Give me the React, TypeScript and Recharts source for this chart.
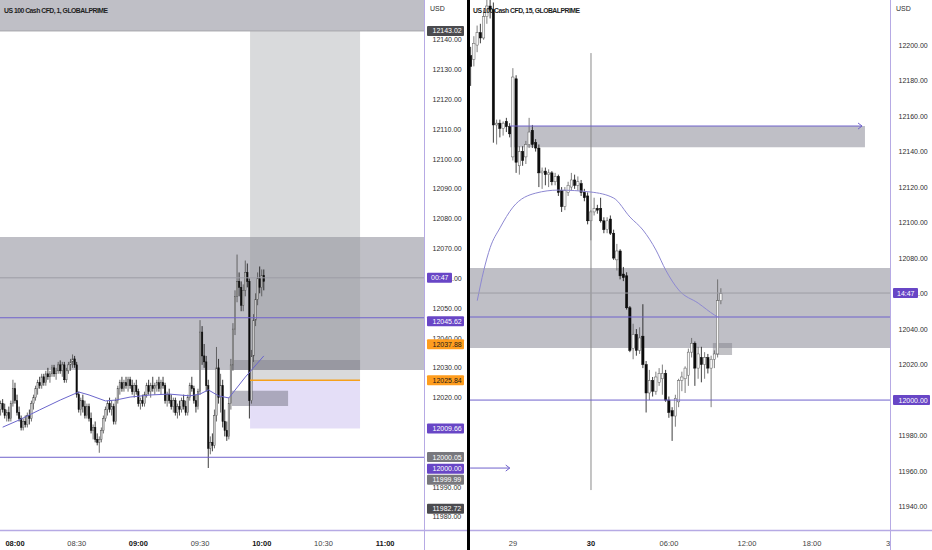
import React from "react";
import {
  ComposedChart,
  Bar,
  Line,
  XAxis,
  YAxis,
  ReferenceArea,
  ReferenceLine,
  ReferenceDot,
} from "recharts";

// ---------- left pane: 1 minute candles, t = minutes after midnight ----------
const leftStart = 473; // 07:53
const leftOhlc: number[][] = [
  [12016, 12019, 12014, 12018], [12018, 12019.5, 12015, 12016], [12016, 12018, 12013, 12014],
  [12014, 12016, 12012, 12015], [12015, 12017, 12012, 12013], [12013, 12019, 12012, 12018],
  [12018, 12026, 12017, 12023], [12023, 12025, 12018, 12019], [12019, 12021, 12014, 12015],
  [12015, 12017, 12012, 12013], [12013, 12014, 12009, 12010], [12010, 12013, 12009, 12012],
  [12012, 12014, 12010, 12011], [12011, 12015, 12010, 12014], [12014, 12016, 12011, 12013],
  [12013, 12019, 12012, 12018], [12018, 12021, 12016, 12020], [12020, 12024, 12019, 12023],
  [12023, 12026, 12021, 12025], [12025, 12027, 12023, 12024], [12024, 12028, 12023, 12027],
  [12027, 12028, 12024, 12025], [12025, 12029, 12024, 12028], [12028, 12030, 12026, 12027],
  [12027, 12029, 12025, 12028], [12028, 12031, 12027, 12030], [12030, 12031, 12027, 12028],
  [12028, 12030, 12026, 12029], [12029, 12032, 12028, 12031], [12031, 12032.5, 12028, 12029],
  [12029, 12032, 12027, 12031], [12031, 12032, 12025, 12026], [12026, 12030, 12025, 12029],
  [12029, 12032, 12028, 12031], [12031, 12033, 12029, 12032], [12032, 12034.5, 12030, 12033],
  [12033, 12034, 12030, 12031], [12031, 12032, 12020, 12021], [12021, 12022, 12015, 12016],
  [12016, 12020, 12014, 12019], [12019, 12021, 12015, 12017], [12017, 12019, 12013, 12014],
  [12014, 12018, 12013, 12017], [12017, 12018, 12012, 12013], [12013, 12015, 12008, 12009],
  [12009, 12011, 12006, 12010], [12010, 12012, 12005, 12006], [12006, 12008, 12004, 12005],
  [12005, 12007, 12001.5, 12006], [12006, 12010, 12005, 12009], [12009, 12014, 12008, 12013],
  [12013, 12017, 12012, 12016], [12016, 12019, 12014, 12018], [12018, 12020, 12015, 12016],
  [12016, 12019, 12014, 12017], [12017, 12018, 12011, 12012], [12012, 12020, 12011, 12019],
  [12019, 12024, 12018, 12023], [12023, 12026, 12021, 12025], [12025, 12027, 12022, 12023],
  [12023, 12026, 12022, 12025], [12025, 12027, 12023, 12024], [12024, 12027, 12022, 12026],
  [12026, 12027, 12023, 12024], [12024, 12026, 12021, 12022], [12022, 12025, 12020, 12024],
  [12024, 12026, 12021, 12022], [12022, 12023, 12017, 12018], [12018, 12020, 12016, 12019],
  [12019, 12021, 12017, 12018], [12018, 12022, 12017, 12021], [12021, 12025, 12020, 12024],
  [12024, 12026, 12021, 12022], [12022, 12025, 12020, 12024], [12024, 12027, 12022, 12023],
  [12023, 12025, 12021, 12024], [12024, 12026, 12022, 12025], [12025, 12027, 12022, 12023],
  [12023, 12026, 12021, 12025], [12025, 12027, 12023, 12024], [12024, 12025, 12018, 12019],
  [12019, 12022, 12017, 12021], [12021, 12023, 12018, 12019], [12019, 12021, 12016, 12017],
  [12017, 12020, 12015, 12019], [12019, 12020, 12014, 12015], [12015, 12018, 12013, 12017],
  [12017, 12019, 12014, 12016], [12016, 12020, 12015, 12019], [12019, 12021, 12016, 12017],
  [12017, 12019, 12014, 12015], [12015, 12021, 12014, 12020], [12020, 12025, 12019, 12024],
  [12024, 12027, 12022, 12023], [12023, 12024, 12018, 12019], [12019, 12021, 12015, 12017],
  [12017, 12023, 12016, 12022], [12022, 12046, 12021, 12042], [12042, 12044, 12031, 12034],
  [12034, 12038, 12030, 12032], [12032, 12034, 12022, 12024], [12024, 12026, 11996.4, 12003],
  [12003, 12007, 12001, 12005], [12005, 12008, 12002, 12004], [12004, 12016, 12003, 12014],
  [12014, 12037, 12012, 12030], [12030, 12033, 12018, 12020], [12020, 12028, 12015, 12024],
  [12024, 12026, 12010, 12012], [12012, 12016, 12007, 12009], [12009, 12012, 12005.5, 12007],
  [12007, 12020, 12006, 12018], [12018, 12033, 12016, 12031], [12031, 12045, 12029, 12043],
  [12043, 12056, 12041, 12054], [12054, 12068, 12052, 12059], [12059, 12062, 12054, 12057],
  [12057, 12059, 12049, 12051], [12051, 12058, 12049, 12056], [12056, 12066, 12054, 12062],
  [12062, 12065, 12057, 12059], [12059, 12060, 12013, 12019], [12019, 12036, 12018, 12034],
  [12034, 12048, 12032, 12046], [12046, 12055, 12044, 12053], [12053, 12062, 12051, 12060],
  [12060, 12064, 12055, 12057], [12057, 12063, 12054, 12061], [12061, 12063, 12056, 12059],
];
// moving average read at a few candles: [candle index, price]
const leftMa: number[][] = [
  [1, 12010.1], [9, 12012.5], [19, 12015.9], [29, 12019.2], [38, 12021.9], [43, 12020.9],
  [51, 12018.9], [56, 12019.2], [63, 12020.2], [73, 12020.9], [82, 12021.2], [92, 12020.6],
  [97, 12021.2], [101, 12022.6], [106, 12020.6], [111, 12019.9], [119, 12026.9], [128, 12034.0],
];
const leftPriceTicks = [
  11980, 11990, 12010, 12020, 12030, 12040, 12050, 12060, 12070, 12080, 12090, 12100, 12110,
  12120, 12130, 12140,
];
const leftTimeTicks = [480, 510, 540, 570, 600, 630, 660];
const leftMarks = [
  { value: 12143.02, text: "12143.02", kind: "dark" },
  { value: 12060.2, text: "00:47", kind: "timer" },
  { value: 12045.62, text: "12045.62", kind: "purple" },
  { value: 12037.88, text: "12037.88", kind: "orange" },
  { value: 12025.84, text: "12025.84", kind: "orange" },
  { value: 12009.66, text: "12009.66", kind: "purple" },
  { value: 12000.05, text: "12000.05", kind: "gray" },
  { value: 12000.0, text: "12000.00", kind: "purple" },
  { value: 11999.99, text: "11999.99", kind: "gray" },
  { value: 11982.72, text: "11982.72", kind: "dark" },
];
// labels pushed down where they would sit on top of each other
const leftNudges: Record<string, number> = { "12000.00": 11.5, "11999.99": 22.5 };

// ---------- right pane: 15 minute candles, n = bar index (0 = 30th 00:00) ----------
const rightStart = -37;
const rightOhlc: number[][] = [
  [12194, 12199, 12177, 12188], [12192, 12205, 12188, 12201], [12200, 12211, 12196, 12207],
  [12207, 12212, 12201, 12204], [12204, 12220, 12203, 12216], [12216, 12228, 12212, 12222],
  [12222, 12230, 12215, 12220], [12220, 12224, 12145, 12155], [12155, 12158, 12144, 12156],
  [12156, 12158, 12148, 12153], [12153, 12157, 12149, 12156], [12157, 12159, 12151, 12154],
  [12154, 12156, 12148, 12150], [12137, 12187, 12135, 12182], [12181, 12183, 12128, 12134],
  [12132, 12143, 12127, 12140], [12140, 12143, 12132, 12135], [12137, 12146, 12133, 12144],
  [12144, 12159, 12142, 12151], [12152, 12155, 12142, 12144], [12145, 12147, 12140, 12142],
  [12142, 12144, 12120, 12128], [12128, 12131, 12119, 12129], [12129, 12131, 12121, 12127],
  [12127, 12130, 12120, 12128], [12128, 12129, 12121, 12123], [12123, 12128, 12121, 12126],
  [12126, 12127, 12115, 12117], [12118, 12120, 12106, 12109], [12109, 12120, 12107, 12118],
  [12117, 12123, 12115, 12121], [12120, 12128, 12118, 12124], [12124, 12127, 12119, 12121],
  [12121, 12126, 12118, 12123], [12122, 12124, 12115, 12117], [12117, 12119, 12112, 12114],
  [12115, 12117, 12099, 12101], [12101, 12107, 12090, 12106], [12106, 12114, 12104, 12108],
  [12108, 12110, 12105, 12107], [12108, 12114, 12100, 12101], [12101, 12103, 12094, 12096],
  [12096, 12103, 12094, 12101], [12102, 12104, 12093, 12094], [12094, 12096, 12079, 12080],
  [12079, 12088, 12073, 12084], [12084, 12085, 12068, 12070], [12071, 12075, 12067, 12069],
  [12070, 12072, 12051, 12052], [12052, 12053, 12027, 12028], [12029, 12043, 12023, 12037],
  [12037, 12040, 12025, 12028], [12028, 12041, 12026, 12035], [12036, 12054, 12018, 12020],
  [12020, 12022, 11993, 12004], [12004, 12017, 12000, 12011], [12011, 12013, 12002, 12005],
  [12005, 12016, 12003, 12013], [12010, 12018, 12008, 12015], [12012, 12020, 12003, 12015],
  [12015, 12017, 11999, 12000], [12000, 12002, 11990, 11993], [11994, 11996, 11977, 11991],
  [11991, 12003, 11985, 12001], [11999, 12012, 11996, 12011], [12011, 12016, 12005, 12013],
  [12012, 12019, 12004, 12018], [12014, 12029, 12008, 12027], [12027, 12035, 12024, 12032],
  [12032, 12033, 12008, 12018], [12018, 12030, 12012, 12026], [12024, 12030, 12010, 12020],
  [12020, 12027, 12012, 12024], [12024, 12026, 12015, 12018], [12018, 12025, 11996, 12023],
  [12023, 12028, 12018, 12026], [12026, 12068, 12024, 12056], [12056, 12063, 12054, 12060],
];
const rightMa: number[][] = [
  [-35, 12056], [-33, 12073], [-31, 12086], [-28, 12097], [-24, 12108.7], [-17, 12116.6],
  [-10, 12118.3], [0, 12117.2], [7, 12113.8], [12, 12103.1], [16, 12095.8], [20, 12084.5],
  [23, 12073.2], [27, 12062], [33, 12054.6], [38, 12047.9], [39, 12046.8],
];
const rightPriceTicks = [
  11940, 11960, 11980, 12020, 12040, 12060, 12080, 12100, 12120, 12140, 12160, 12180, 12200,
];
const rightTimeTicks = [-24, 0, 24, 48, 68, 92];
const rightTimeLabels = ["29", "30", "06:00", "12:00", "18:00", "3"];
const rightMarks = [
  { value: 12060.3, text: "14:47", kind: "timer" },
  { value: 12000.0, text: "12000.00", kind: "purple" },
];

const leftData = leftOhlc.map(([o, h, l, c], i) => ({ t: leftStart + i, o, h, l, c, ma: null as number | null }));
leftMa.forEach(([i, v]) => (leftData[i].ma = v));
const rightData = rightOhlc.map(([o, h, l, c], i) => ({ t: rightStart + i, o, h, l, c, ma: null as number | null }));
rightMa.forEach(([n, v]) => (rightData[n - rightStart].ma = v));

const font = "'Liberation Sans', Arial, sans-serif";
const purple = "#6f62cc";
const zoneGray = "#9898a3";

const markStyle: Record<string, { bg: string; fg: string; w: number }> = {
  dark: { bg: "#4b4b4f", fg: "#ffffff", w: 37 },
  gray: { bg: "#78787d", fg: "#ffffff", w: 37 },
  purple: { bg: "#6846c6", fg: "#ffffff", w: 37 },
  orange: { bg: "#ff9d1e", fg: "#1b1b1b", w: 37 },
  timer: { bg: "#6846c6", fg: "#ffffff", w: 25 },
};

const fmtTime = (m: number) =>
  `${String(Math.floor(m / 60)).padStart(2, "0")}:${String(m % 60).padStart(2, "0")}`;

const PriceTick = (props: any) => {
  const { x, y, payload, marks, nudges } = props;
  const v = payload.value;
  const m = marks.find((mk: any) => mk.value === v);
  if (!m) {
    return (
      <text x={x + 6.5} y={y + 2.5} fontSize={7} fontFamily={font} fill="#2e2e2e">
        {v.toFixed(2)}
      </text>
    );
  }
  const st = markStyle[m.kind];
  const yy = y + ((nudges && nudges[m.text]) || 0);
  return (
    <g>
      <rect x={x + 1} y={yy - 5} width={st.w} height={10} rx={1} fill={st.bg} />
      <text x={x + (m.kind === "timer" ? 5 : 6.5)} y={yy + 2.5} fontSize={7} fontFamily={font} fill={st.fg}>
        {m.text}
      </text>
    </g>
  );
};

const TimeTick = (props: any) => {
  const { x, y, label, bold } = props;
  return (
    <text
      x={x}
      y={y + 13.5}
      textAnchor="middle"
      fontSize={7.5}
      fontFamily={font}
      fontWeight={bold ? "bold" : "normal"}
      fill={bold ? "#151515" : "#444"}
    >
      {label}
    </text>
  );
};

const Candle = (props: any) => {
  const { x, y, width, height, payload, bodyW, upFill, upStroke } = props;
  if (x == null || y == null) return null;
  const { o, h, l, c } = payload;
  const top = Math.min(y, y + height);
  const hgt = Math.abs(height);
  const cx = x + width / 2;
  const span = h - l || 1;
  const py = (p: number) => top + ((h - p) / span) * hgt;
  const bTop = py(Math.max(o, c));
  const bBot = py(Math.min(o, c));
  const up = c >= o;
  const col = up ? upStroke : "#0c0c0c";
  return (
    <g>
      <line x1={cx} x2={cx} y1={top} y2={top + hgt} stroke={col} strokeWidth={0.8} />
      <rect
        x={cx - bodyW / 2}
        y={bTop}
        width={bodyW}
        height={Math.max(bBot - bTop, 0.8)}
        fill={up ? upFill : "#0c0c0c"}
        stroke={col}
        strokeWidth={0.5}
      />
    </g>
  );
};

const Arrow = (props: any) => {
  const { cx, cy } = props;
  return (
    <path d={`M${cx - 4},${cy - 3} L${cx},${cy} L${cx - 4},${cy + 3}`} stroke={purple} strokeWidth={1} fill="none" />
  );
};

const LeftPane = () => (
  <ComposedChart width={467} height={550} data={leftData} margin={{ top: 0, right: 0, bottom: 0, left: 0 }}>
    <XAxis
      dataKey="t"
      type="number"
      domain={[472.7, 678.9]}
      allowDataOverflow
      ticks={leftTimeTicks}
      interval={0}
      tickSize={0}
      axisLine={false}
      tickLine={false}
      height={20}
      tick={(p: any) => <TimeTick {...p} label={fmtTime(p.payload.value)} bold={p.payload.value % 60 === 0} />}
    />
    <YAxis
      orientation="right"
      type="number"
      domain={[11975.6, 12153.4]}
      allowDataOverflow
      ticks={[...leftPriceTicks, ...leftMarks.map((m) => m.value)]}
      interval={0}
      tickSize={0}
      axisLine={false}
      tickLine={false}
      width={43}
      tick={(p: any) => <PriceTick {...p} marks={leftMarks} nudges={leftNudges} />}
    />
    <ReferenceArea y1={12143.02} y2={12153.4} fill={zoneGray} fillOpacity={0.62} stroke="none" ifOverflow="hidden" />
    <ReferenceArea y1={12029.3} y2={12073.9} fill={zoneGray} fillOpacity={0.62} stroke="none" ifOverflow="hidden" />
    <ReferenceArea x1={594.3} x2={647.8} y1={12025.84} y2={12143.02} fill="#8f9398" fillOpacity={0.34} stroke="none" ifOverflow="hidden" />
    <ReferenceArea x1={594.3} x2={647.8} y1={12009.66} y2={12025.84} fill="#a493e6" fillOpacity={0.3} stroke="none" ifOverflow="hidden" />
    <ReferenceArea x1={585.5} x2={647.8} y1={12029.3} y2={12032.6} fill="#7c7c88" fillOpacity={0.45} stroke="none" ifOverflow="hidden" />
    <ReferenceArea x1={585.5} x2={612.8} y1={12017.2} y2={12022.3} fill="#7c7c8c" fillOpacity={0.55} stroke="none" ifOverflow="hidden" />
    <Bar
      dataKey={(d: any) => [d.l, d.h]}
      barSize={2}
      isAnimationActive={false}
      shape={(p: any) => <Candle {...p} bodyW={1.4} upFill="#d6d6d6" upStroke="#4a4a4a" />}
    />
    <Line
      dataKey="ma"
      type="linear"
      connectNulls
      dot={false}
      activeDot={false}
      stroke="#6b66cc"
      strokeWidth={1}
      isAnimationActive={false}
    />
    <ReferenceLine y={12143.02} stroke="#a6a6ac" strokeWidth={1} ifOverflow="hidden" />
    <ReferenceLine y={12060.2} stroke="#9d9da5" strokeWidth={1} ifOverflow="hidden" />
    <ReferenceLine y={12046.8} stroke={purple} strokeWidth={1} ifOverflow="hidden" />
    <ReferenceLine y={12000} stroke={purple} strokeWidth={1} ifOverflow="hidden" />
    <ReferenceLine
      segment={[{ x: 594.3, y: 12025.84 }, { x: 647.8, y: 12025.84 }]}
      stroke="#f5a01c"
      strokeWidth={1.5}
      ifOverflow="hidden"
    />
  </ComposedChart>
);

const RightPane = () => (
  <ComposedChart width={462} height={550} data={rightData} margin={{ top: 0, right: 0, bottom: 0, left: 0 }}>
    <XAxis
      dataKey="t"
      type="number"
      domain={[-37.23, 92]}
      allowDataOverflow
      ticks={rightTimeTicks}
      interval={0}
      tickSize={0}
      axisLine={false}
      tickLine={false}
      height={20}
      tick={(p: any) => {
        const label = rightTimeLabels[rightTimeTicks.indexOf(p.payload.value)];
        return <TimeTick {...p} x={label === "3" ? p.x - 2 : p.x} label={label} bold={label === "30"} />;
      }}
    />
    <YAxis
      orientation="right"
      type="number"
      domain={[11926.8, 12225.4]}
      allowDataOverflow
      ticks={[...rightPriceTicks, ...rightMarks.map((m) => m.value)]}
      interval={0}
      tickSize={0}
      axisLine={false}
      tickLine={false}
      width={42}
      tick={(p: any) => <PriceTick {...p} marks={rightMarks} />}
    />
    <ReferenceArea y1={12029.3} y2={12074.4} fill={zoneGray} fillOpacity={0.62} stroke="none" ifOverflow="hidden" />
    <ReferenceArea x1={-24.9} x2={84.3} y1={12142.5} y2={12154.4} fill={zoneGray} fillOpacity={0.62} stroke="none" ifOverflow="hidden" />
    <ReferenceArea x1={37.5} x2={43.4} y1={12025.4} y2={12032.1} fill="#84848c" fillOpacity={0.5} stroke="none" ifOverflow="hidden" />
    <ReferenceLine
      segment={[{ x: 0, y: 11949.3 }, { x: 0, y: 12195.5 }]}
      stroke="#8a8a8a"
      strokeWidth={1}
      ifOverflow="hidden"
    />
    <Bar
      dataKey={(d: any) => [d.l, d.h]}
      barSize={3}
      isAnimationActive={false}
      shape={(p: any) => <Candle {...p} bodyW={2.3} upFill="#f6f6f6" upStroke="#5e5e5e" />}
    />
    <Line
      dataKey="ma"
      type="monotone"
      connectNulls
      dot={false}
      activeDot={false}
      stroke="#8d88d2"
      strokeWidth={1}
      isAnimationActive={false}
    />
    <ReferenceLine y={12060.3} stroke="#9d9da5" strokeWidth={1} ifOverflow="hidden" />
    <ReferenceLine y={12046.8} stroke={purple} strokeWidth={1} ifOverflow="hidden" />
    <ReferenceLine y={12000} stroke={purple} strokeWidth={1} ifOverflow="hidden" />
    <ReferenceLine
      segment={[{ x: -24.9, y: 12154.4 }, { x: 83.4, y: 12154.4 }]}
      stroke={purple}
      strokeWidth={1}
      ifOverflow="hidden"
    />
    <ReferenceDot x={83.4} y={12154.4} r={3} ifOverflow="visible" shape={(p: any) => <Arrow {...p} />} />
    <ReferenceLine
      segment={[{ x: -37.2, y: 11961.7 }, { x: -25, y: 11961.7 }]}
      stroke={purple}
      strokeWidth={1}
      ifOverflow="hidden"
    />
    <ReferenceDot x={-25} y={11961.7} r={3} ifOverflow="visible" shape={(p: any) => <Arrow {...p} />} />
  </ComposedChart>
);

export default function App() {
  return (
    <div style={{ position: "absolute", left: 0, top: 0, width: 932, height: 550, background: "#fff", overflow: "hidden" }}>
      <div style={{ position: "absolute", left: 0, top: 0 }}>
        <LeftPane />
      </div>
      <div style={{ position: "absolute", left: 470, top: 0 }}>
        <RightPane />
      </div>
      <svg width={932} height={550} style={{ position: "absolute", left: 0, top: 0, pointerEvents: "none" }}>
        <text x={4} y={12.5} fontSize={6.8} fontWeight="bold" fontFamily={font} fill="#1e1e1e" textLength={104}>
          US 100 Cash CFD, 1, GLOBALPRIME
        </text>
        <text x={473} y={12.5} fontSize={6.8} fontWeight="bold" fontFamily={font} fill="#1e1e1e" textLength={107}>
          US 100 Cash CFD, 15, GLOBALPRIME
        </text>
        <text x={430} y={11} fontSize={7} fontFamily={font} fill="#2e2e2e">USD</text>
        <text x={896} y={11} fontSize={7} fontFamily={font} fill="#2e2e2e">USD</text>
        <line x1={424.5} x2={424.5} y1={0} y2={550} stroke="#b6aae4" strokeWidth={1} />
        <line x1={890.5} x2={890.5} y1={0} y2={550} stroke="#b6aae4" strokeWidth={1} />
        <line x1={0} x2={932} y1={530.5} y2={530.5} stroke="#b6aae4" strokeWidth={1.5} />
        <rect x={467} y={0} width={3} height={550} fill="#000" />
      </svg>
    </div>
  );
}
